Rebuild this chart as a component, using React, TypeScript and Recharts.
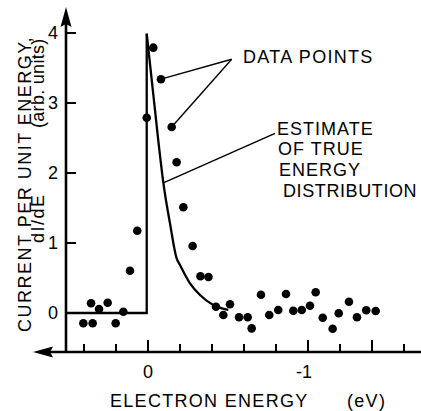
import React from 'react';
import { ComposedChart, XAxis, YAxis, Line, Scatter, ReferenceLine } from 'recharts';

// Measured data points (electron energy in eV, current in arb. units)
const pointEnergy = [
  0.404, 0.346, 0.356, 0.306, 0.252, 0.202, 0.154, 0.1125, 0.067, 0.008,
  -0.033, -0.081, -0.148, -0.179, -0.221, -0.279, -0.328, -0.378, -0.425, -0.471,
  -0.5125, -0.569, -0.623, -0.648, -0.706, -0.758, -0.814, -0.8625, -0.908, -0.961,
  -1.0125, -1.048, -1.092, -1.154, -1.192, -1.256, -1.306, -1.364, -1.423,
];
const pointCurrent = [
  -0.147, -0.147, 0.139, 0.057, 0.147, -0.147, 0.019, 0.604, 1.176, 2.79,
  3.79, 3.34, 2.657, 2.153, 1.51, 0.957, 0.524, 0.514, 0.09, -0.029,
  0.124, -0.061, -0.061, -0.219, 0.261, -0.029, 0.043, 0.271, 0.033, 0.043,
  0.104, 0.296, -0.067, -0.224, -0.004, 0.161, -0.061, 0.039, 0.029,
];

// Estimate of true energy distribution: step part and decaying tail
const stepEnergy = [0.5125, 0.008, 0.008];
const stepCurrent = [0, 0, 3.99];
const decayEnergy = [0.008, -0.064, -0.096, -0.1375, -0.179, -0.2, -0.2625, -0.325, -0.408, -0.502];
const decayCurrent = [3.99, 2.47, 1.86, 1.28, 0.78, 0.686, 0.424, 0.257, 0.114, 0.043];

// Axes
const xTicks = [0.4, 0.2, 0, -0.2, -0.4, -0.6, -0.8, -1, -1.2, -1.4, -1.6];
const xLongTicks = [0, -1, -1.4];
const xTickLabels: Record<string, string> = { '0': '0', '-1': '-1' };
const yTicks = [0, 1, 2, 3, 4];
const xDomain = [-1.70625, 0.5125];
const yDomain = [-0.557, 4.371];
const xArrowTip = 0.71875;

// Annotation anchors (data coordinates)
const dataLeaderFrom = { x: -0.523, y: 3.624 };
const dataLeaderTargets = [11, 12];
const estimateLeaderFrom = { x: -0.794, y: 2.567 };
const estimateLeaderTarget = 2;

const pointsData = pointEnergy.map((x, i) => ({ x, y: pointCurrent[i] }));
const stepData = stepEnergy.map((x, i) => ({ x, y: stepCurrent[i] }));
const decayData = decayEnergy.map((x, i) => ({ x, y: decayCurrent[i] }));

const FONT = '"Liberation Sans", Arial, sans-serif';

const XTick = (props: any) => {
  const { x, y, payload } = props;
  const v = payload.value;
  const long = xLongTicks.includes(v);
  const label = xTickLabels[String(v)];
  return (
    <g>
      <line x1={x} x2={x} y1={y} y2={y - (long ? 12 : 8)} stroke="#000" strokeWidth={2} />
      {label && (
        <text x={v < 0 ? x - 4 : x} y={y + 26} textAnchor="middle" fontSize={18} fontFamily={FONT} fill="#000">
          {label}
        </text>
      )}
    </g>
  );
};

const YTick = (props: any) => {
  const { x, y, payload } = props;
  return (
    <g>
      <line x1={x} x2={x + 10} y1={y} y2={y} stroke="#000" strokeWidth={2} />
      <text x={x - 8} y={y} dy="0.36em" textAnchor="end" fontSize={18} fontFamily={FONT} fill="#000">
        {payload.value}
      </text>
    </g>
  );
};

const ArrowLine = (p: any) => {
  const { x1, y1, x2, y2 } = p;
  const dx = x2 - x1;
  const dy = y2 - y1;
  const len = Math.hypot(dx, dy) || 1;
  const ux = dx / len;
  const uy = dy / len;
  const L = 20;
  const W = 5.5;
  const bx = x2 - ux * L;
  const by = y2 - uy * L;
  const nx = bx + ux * 3;
  const ny = by + uy * 3;
  const pts = `${x2},${y2} ${bx - uy * W},${by + ux * W} ${nx},${ny} ${bx + uy * W},${by - ux * W}`;
  return (
    <g>
      <line x1={x1} y1={y1} x2={nx} y2={ny} stroke="#000" strokeWidth={2.6} />
      <polygon points={pts} fill="#000" />
    </g>
  );
};

const Dot = (props: any) => <circle cx={props.cx} cy={props.cy} r={4.3} fill="#000" />;

const txt = { fontFamily: FONT, fontSize: 18, fill: '#000' } as const;

export default function App() {
  return (
    <div style={{ position: 'absolute', left: 0, top: 0, width: 421, height: 411, background: '#fff' }}>
      <ComposedChart width={421} height={411} margin={{ top: 7, right: 0, bottom: 0, left: 0 }}>
        <XAxis
          dataKey="x"
          type="number"
          domain={xDomain}
          reversed
          allowDataOverflow
          ticks={xTicks}
          interval={0}
          tick={<XTick />}
          tickLine={false}
          axisLine={false}
          tickSize={0}
          tickMargin={0}
          height={59}
        />
        <YAxis
          dataKey="y"
          type="number"
          domain={yDomain}
          allowDataOverflow
          ticks={yTicks}
          interval={0}
          tick={<YTick />}
          tickLine={false}
          axisLine={false}
          tickSize={0}
          tickMargin={0}
          width={66}
        />
        <ReferenceLine
          segment={[{ x: xDomain[0], y: yDomain[0] }, { x: xArrowTip, y: yDomain[0] }]}
          ifOverflow="visible"
          shape={ArrowLine}
        />
        <ReferenceLine
          segment={[{ x: xDomain[1], y: yDomain[0] }, { x: xDomain[1], y: yDomain[1] }]}
          ifOverflow="visible"
          shape={ArrowLine}
        />
        {dataLeaderTargets.map((i) => (
          <ReferenceLine
            key={i}
            segment={[dataLeaderFrom, { x: pointEnergy[i], y: pointCurrent[i] }]}
            ifOverflow="visible"
            stroke="#000"
            strokeWidth={1.4}
          />
        ))}
        <ReferenceLine
          segment={[estimateLeaderFrom, { x: decayEnergy[estimateLeaderTarget], y: decayCurrent[estimateLeaderTarget] }]}
          ifOverflow="visible"
          stroke="#000"
          strokeWidth={1.4}
        />
        <Line data={stepData} dataKey="y" type="linear" stroke="#000" strokeWidth={2.3} dot={false} isAnimationActive={false} />
        <Line data={decayData} dataKey="y" type="monotone" stroke="#000" strokeWidth={2.3} dot={false} isAnimationActive={false} />
        <Scatter data={pointsData} shape={Dot} isAnimationActive={false} />
      </ComposedChart>
      <svg width={421} height={411} style={{ position: 'absolute', left: 0, top: 0, pointerEvents: 'none' }}>
        <text transform="translate(30.5,184) rotate(-90)" textAnchor="middle" letterSpacing={1.5} {...txt}>
          CURRENT PER UNIT ENERGY,
        </text>
        <text transform="translate(43.5,243) rotate(-90)" textAnchor="start" letterSpacing={1.5} {...txt}>
          dI/dE
        </text>
        <text transform="translate(43.5,128) rotate(-90)" textAnchor="start" letterSpacing={0.3} {...txt}>
          (arb. units)
        </text>
        <text x={110} y={406.5} letterSpacing={1.3} {...txt}>ELECTRON ENERGY</text>
        <text x={347} y={406.5} letterSpacing={1.3} {...txt}>(eV)</text>
        <text x={243} y={62.5} letterSpacing={1.3} {...txt}>DATA POINTS</text>
        <text x={277} y={135} letterSpacing={1} {...txt}>ESTIMATE</text>
        <text x={278} y={155} letterSpacing={1} {...txt}>OF TRUE</text>
        <text x={279} y={176} letterSpacing={1} {...txt}>ENERGY</text>
        <text x={283} y={196.5} letterSpacing={0.6} {...txt}>DISTRIBUTION</text>
      </svg>
    </div>
  );
}
